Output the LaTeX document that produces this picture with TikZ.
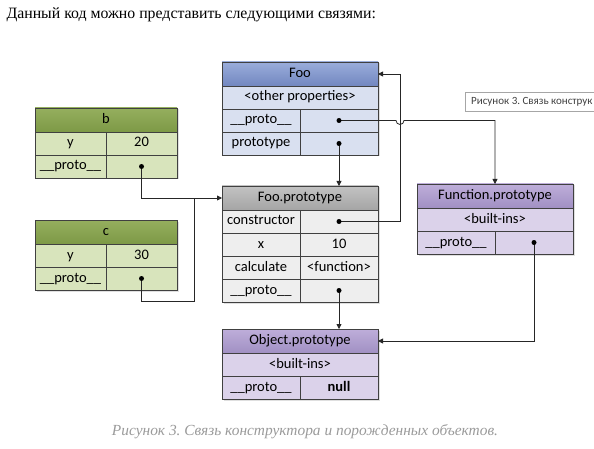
\documentclass[tikz,border=0pt]{standalone}
\usepackage{fontspec}
\setmainfont{Liberation Serif}
\newfontfamily\cellfont{Carlito}
\frenchspacing
\usepackage{tikz}
\usetikzlibrary{positioning, arrows.meta, calc, shadows}
\definecolor{framecolor}{HTML}{404040}
\definecolor{fooTop}{HTML}{9AADDB}
\definecolor{fooBot}{HTML}{7287C0}
\definecolor{fooRow}{HTML}{D9E0F0}
\definecolor{grnTop}{HTML}{95AF5E}
\definecolor{grnBot}{HTML}{7D9946}
\definecolor{grnRow}{HTML}{D8E4BC}
\definecolor{gryTop}{HTML}{C2C2C2}
\definecolor{gryBot}{HTML}{A5A5A5}
\definecolor{gryRow}{HTML}{EEEEEE}
\definecolor{purTop}{HTML}{BEAEDA}
\definecolor{purBot}{HTML}{A190C3}
\definecolor{purRow}{HTML}{DBD2EA}
\definecolor{captgray}{HTML}{9A9A9A}
\tikzset{
    cell/.style     = {draw=framecolor, line width=0.8pt, outer sep=0pt, inner sep=0pt,
                       minimum height=23pt, text height=10pt, text depth=3pt,
                       font=\cellfont\fontsize{14.5}{16}\selectfont,
                       drop shadow={opacity=0.25, shadow xshift=1.5pt, shadow yshift=-1.5pt}},
    wide/.style     = {cell, minimum width=156pt},
    half/.style     = {cell, minimum width=78pt},
    bwide/.style    = {cell, minimum width=142pt},
    bhalf/.style    = {cell, minimum width=71pt},
    head/.style     = {minimum height=24pt},
    foohead/.style  = {wide, head, top color=fooTop, bottom color=fooBot},
    foorow/.style   = {fill=fooRow},
    grnhead/.style  = {bwide, head, top color=grnTop, bottom color=grnBot},
    grnrow/.style   = {fill=grnRow},
    gryhead/.style  = {wide, head, top color=gryTop, bottom color=gryBot},
    gryrow/.style   = {fill=gryRow},
    purhead/.style  = {wide, head, top color=purTop, bottom color=purBot},
    purrow/.style   = {fill=purRow},
    wire/.style     = {line width=0.8pt, black!85},
    link/.style     = {wire, -{Triangle[length=5pt, width=5pt]}},
    tipline/.style  = {draw=black!35, line width=0.6pt},
    tiptext/.style  = {inner sep=0pt, text=black!75,
                       font=\cellfont\fontsize{11}{13}\selectfont},
}
\newcommand{\pt}[1]{\fill (#1) circle[radius=2.5pt];}

\begin{document}
\begin{tikzpicture}[x=1pt, y=-1pt]
\path[use as bounding box, clip] (0,0) rectangle (594,449);

\node[anchor=west, font=\fontsize{15.8}{18}\selectfont] (title) at (3,15)
    {Данный код можно представить следующими связями:};

% Foo
\node[foohead, anchor=north west] (foo) at (222,62) {Foo};
\node[wide, foorow, below=0pt of foo] (fooother) {<other properties>};
\node[half, foorow, below right=0pt of fooother.south west] (fooprotok) {\_\_proto\_\_};
\node[half, foorow, right=0pt of fooprotok] (fooprotov) {};
\node[half, foorow, below=0pt of fooprotok] (foopk) {prototype};
\node[half, foorow, right=0pt of foopk] (foopv) {};

% b
\node[grnhead, anchor=north west] (b) at (35,108) {b};
\node[bhalf, grnrow, below right=0pt of b.south west] (byk) {y};
\node[bhalf, grnrow, right=0pt of byk] (byv) {20};
\node[bhalf, grnrow, below=0pt of byk] (bprotok) {\_\_proto\_\_};
\node[bhalf, grnrow, right=0pt of bprotok] (bprotov) {};

% c
\node[grnhead, anchor=north west] (c) at (35,220) {c};
\node[bhalf, grnrow, below right=0pt of c.south west] (cyk) {y};
\node[bhalf, grnrow, right=0pt of cyk] (cyv) {30};
\node[bhalf, grnrow, below=0pt of cyk] (cprotok) {\_\_proto\_\_};
\node[bhalf, grnrow, right=0pt of cprotok] (cprotov) {};

% Foo.prototype
\node[gryhead, anchor=north west] (fp) at (222,186) {Foo.prototype};
\node[half, gryrow, below right=0pt of fp.south west] (fpctork) {constructor};
\node[half, gryrow, right=0pt of fpctork] (fpctorv) {};
\node[half, gryrow, below=0pt of fpctork] (fpxk) {x};
\node[half, gryrow, right=0pt of fpxk] (fpxv) {10};
\node[half, gryrow, below=0pt of fpxk] (fpcalck) {calculate};
\node[half, gryrow, right=0pt of fpcalck] (fpcalcv) {<function>};
\node[half, gryrow, below=0pt of fpcalck] (fpprotok) {\_\_proto\_\_};
\node[half, gryrow, right=0pt of fpprotok] (fpprotov) {};

% Function.prototype
\node[purhead, anchor=north west] (fn) at (417,184) {Function.prototype};
\node[wide, purrow, below=0pt of fn] (fnbuilt) {<built-ins>};
\node[half, purrow, below right=0pt of fnbuilt.south west] (fnprotok) {\_\_proto\_\_};
\node[half, purrow, right=0pt of fnprotok] (fnprotov) {};

% Object.prototype
\node[purhead, anchor=north west] (obj) at (222,329) {Object.prototype};
\node[wide, purrow, below=0pt of obj] (objbuilt) {<built-ins>};
\node[half, purrow, below right=0pt of objbuilt.south west] (objprotok) {\_\_proto\_\_};
\node[half, purrow, right=0pt of objprotok] (objprotov) {\textbf{null}};

% tooltip, running off the right edge
\draw[tipline] (594,92) -| (465,111) -- (594,111);
\node[tiptext, anchor=west] (tip) at (471,101.5) {Рисунок 3. Связь конструк};

\coordinate (rail) at (400,0);
\coordinate (merge) at ($(fp.west)+(-28,0)$);

% connectors
\draw[link] (fpctorv.center) -- (fpctorv.center -| rail) |- (foo.east);
\draw[link] (fooprotov.center) -- ($(fooprotov.center -| rail)+(-4,0)$)
    arc[start angle=180, end angle=360, radius=4pt] -| (fn.north);
\draw[link] (foopv.center) -- (foopv.center |- fp.north);
\draw[link] (bprotov.center) |- (fp.west);
\draw[wire] (cprotov.center) -- ++(0,23) -| (merge);
\draw[link] (fpprotov.center) -- (fpprotov.center |- obj.north);
\draw[link] (fnprotov.center) |- (obj.east);

\pt{fooprotov.center} \pt{foopv.center} \pt{bprotov.center} \pt{cprotov.center}
\pt{fpctorv.center} \pt{fpprotov.center} \pt{fnprotov.center}

\node[font=\itshape\fontsize{15.4}{18}\selectfont, text=captgray] (caption) at (305,432)
    {Рисунок 3. Связь конструктора и порожденных объектов.};
\end{tikzpicture}
\end{document}
